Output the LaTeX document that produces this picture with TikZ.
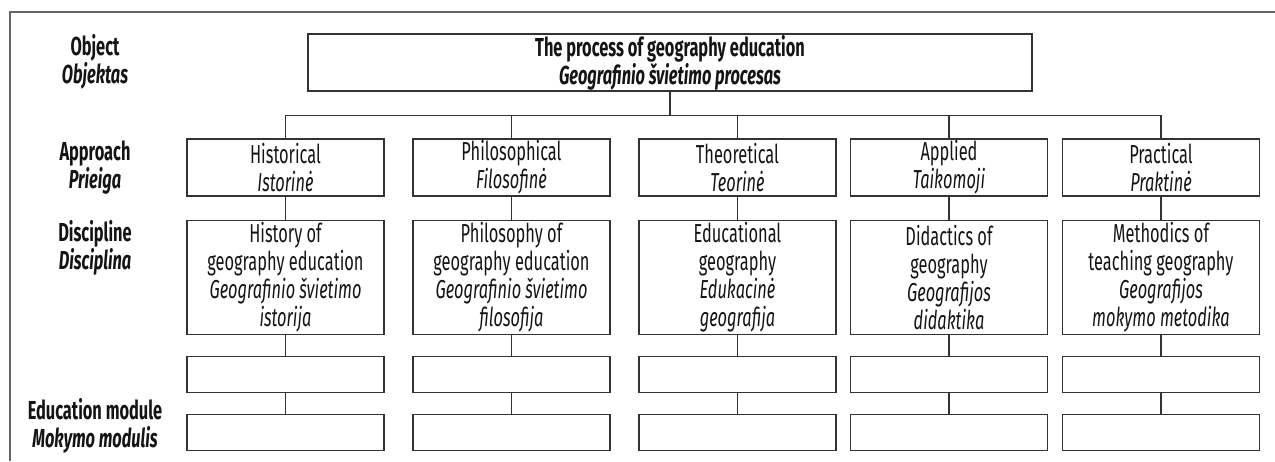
\documentclass[tikz,border=0pt]{standalone}
\usepackage{fontspec}
\setmainfont[FakeStretch=0.63]{Fira Sans}
\usetikzlibrary{positioning}
\tikzset{
  every node/.style={font=\fontsize{13}{14}\selectfont, text=black!92},
  node distance=10.5pt,
  box/.style={draw=black!80, line width=0.6pt, minimum width=98.5pt, align=center, inner sep=0pt},
  approachbox/.style={box, minimum height=28.5pt},
  disciplinebox/.style={box, minimum height=57pt},
  modulebox/.style={box, minimum height=18pt},
  rowlabel/.style={align=center, font=\fontsize{13}{14}\selectfont\bfseries},
  link/.style={draw=black!80, line width=0.6pt}
}

\begin{document}
\begin{tikzpicture}[x=0.5pt, y=-0.5pt]
\useasboundingbox (0,0) rectangle (1275,461);
% frame
\draw[black!60, line width=0.65pt] (10,461) -- (10,12) -- (1275,12);

% row labels
\node[rowlabel] (objlabel) at (95,62) {Object\\\textit{Objektas}};
\node[rowlabel] (applabel) at (95,168) {Approach\\\textit{Prieiga}};
\node[rowlabel] (disclabel) at (95,248) {Discipline\\\textit{Disciplina}};
\node[rowlabel] (modlabel) at (95,426) {Education module\\\textit{Mokymo modulis}};

% object
\node[box, minimum width=362pt, minimum height=28.5pt] (process) at (670,62.5)
  {\textbf{The process of geography education}\\\textbf{\textit{Geografinio švietimo procesas}}};
\coordinate (bus) at ([yshift=-12pt]process.south);

% approaches
\node[approachbox] (hist) at (285.5,167.5) {Historical\\\textit{Istorinė}};
\node[approachbox] (phil) at (511.5,167.5) {Philosophical\\\textit{Filosofinė}};
\node[approachbox] (theo) at (737.5,167.5) {Theoretical\\\textit{Teorinė}};
\node[approachbox] (appl) at (949,167.5) {Applied\\\textit{Taikomoji}};
\node[approachbox] (prac) at (1161,167.5) {Practical\\\textit{Praktinė}};

% disciplines
\node[disciplinebox] (histdisc) [below=11.5pt of hist]
  {History of\\geography education\\\textit{Geografinio švietimo}\\\textit{istorija}};
\node[disciplinebox] (phildisc) [below=11.5pt of phil]
  {Philosophy of\\geography education\\\textit{Geografinio švietimo}\\\textit{filosofija}};
\node[disciplinebox] (theodisc) [below=11.5pt of theo]
  {Educational\\geography\\\textit{Edukacinė}\\\textit{geografija}};
\node[disciplinebox] (appldisc) [below=11.5pt of appl]
  {Didactics of\\geography\\\textit{Geografijos}\\\textit{didaktika}};
\node[disciplinebox] (pracdisc) [below=11.5pt of prac]
  {Methodics of\\teaching geography\\\textit{Geografijos}\\\textit{mokymo metodika}};

% empty rows
\node[modulebox] (histmid) [below=of histdisc] {};
\node[modulebox] (philmid) [below=of phildisc] {};
\node[modulebox] (theomid) [below=of theodisc] {};
\node[modulebox] (applmid) [below=of appldisc] {};
\node[modulebox] (pracmid) [below=of pracdisc] {};
\node[modulebox] (histmod) [below=of histmid] {};
\node[modulebox] (philmod) [below=of philmid] {};
\node[modulebox] (theomod) [below=of theomid] {};
\node[modulebox] (applmod) [below=of applmid] {};
\node[modulebox] (pracmod) [below=of pracmid] {};

% connectors
\draw[link] (process.south) -- (bus);
\draw[link] (bus) -| (hist.north);
\draw[link] (bus) -| (phil.north);
\draw[link] (bus) -| (theo.north);
\draw[link] (bus) -| (appl.north);
\draw[link] (bus) -| (prac.north);
\draw[link] (hist) -- (histdisc) (histdisc) -- (histmid) (histmid) -- (histmod);
\draw[link] (phil) -- (phildisc) (phildisc) -- (philmid) (philmid) -- (philmod);
\draw[link] (theo) -- (theodisc) (theodisc) -- (theomid) (theomid) -- (theomod);
\draw[link] (appl) -- (appldisc) (appldisc) -- (applmid) (applmid) -- (applmod);
\draw[link] (prac) -- (pracdisc) (pracdisc) -- (pracmid) (pracmid) -- (pracmod);
\end{tikzpicture}
\end{document}
